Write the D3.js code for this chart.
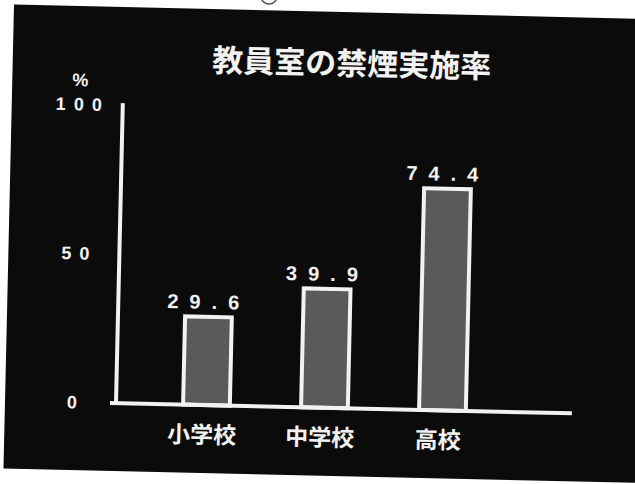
<!DOCTYPE html>
<html>
<head>
<meta charset="utf-8">
<script src="https://cdn.jsdelivr.net/npm/d3@7"></script>
<style>
  html, body { margin: 0; padding: 0; background: #ffffff; }
  svg { display: block; }
</style>
</head>
<body>
<svg id="chart" width="635" height="484"></svg>
<script>
// ---- data ----
const title = "教員室の禁煙実施率";
const unitLabel = "%";
const categories = ["小学校", "中学校", "高校"];
const values = [29.6, 39.9, 74.4];
const yTicks = [0, 50, 100];

// ---- setup ----
const svg = d3.select("#chart");
const ink = "#f2f2f2";
const jp = "'Noto Sans CJK JP', 'Noto Sans', sans-serif";
const num = "'Liberation Sans', Arial, sans-serif";

// scanned slide is slightly rotated
const g = svg.append("g").attr("transform", "rotate(1.3, 115, 403)");

// slide panel
g.append("rect")
  .attr("x", 5).attr("y", 7)
  .attr("width", 632).attr("height", 464)
  .attr("fill", "#0b0b0b");

// circled page number remnant at top edge
svg.append("circle")
  .attr("cx", 269).attr("cy", -4).attr("r", 8)
  .attr("fill", "none").attr("stroke", "#555").attr("stroke-width", 1.5);

// scales
const y = d3.scaleLinear().domain([0, 100]).range([403, 105]);
const x = d3.scaleBand().domain(categories)
  .range([115, 534]).paddingInner(0.57).paddingOuter(0.56);

// title
g.append("text")
  .attr("x", 344).attr("y", 56)
  .attr("text-anchor", "middle")
  .attr("dominant-baseline", "central")
  .attr("fill", ink)
  .attr("font-family", jp)
  .attr("font-weight", 700)
  .attr("font-size", 31)
  .text(title);

// unit
g.append("text")
  .attr("x", 73).attr("y", 81)
  .attr("text-anchor", "middle")
  .attr("dominant-baseline", "central")
  .attr("fill", ink)
  .attr("font-family", num)
  .attr("font-weight", 700)
  .attr("font-size", 18)
  .text(unitLabel);

// y tick labels
const yAxis = d3.axisLeft(y).tickValues(yTicks).tickSize(0).tickPadding(0)
  .tickFormat(d3.format("d"));
const ya = g.append("g").attr("transform", "translate(76,0)").call(yAxis);
ya.select(".domain").remove();
ya.selectAll("text")
  .attr("text-anchor", "middle")
  .attr("fill", ink)
  .attr("font-family", num)
  .attr("font-weight", 700)
  .attr("font-size", 18)
  .attr("letter-spacing", 8);

// bars
g.selectAll("rect.bar")
  .data(values)
  .join("rect")
  .attr("class", "bar")
  .attr("x", (d, i) => x(categories[i]) + 2)
  .attr("width", x.bandwidth() - 4)
  .attr("y", d => y(d))
  .attr("height", d => y(0) - y(d))
  .attr("fill", "#5a5a5a")
  .attr("stroke", ink)
  .attr("stroke-width", 4);

// axis lines
g.append("line")
  .attr("x1", 116).attr("x2", 116)
  .attr("y1", y(100) - 2).attr("y2", y(0) + 2)
  .attr("stroke", ink).attr("stroke-width", 4);
g.append("line")
  .attr("x1", 110).attr("x2", 572)
  .attr("y1", y(0)).attr("y2", y(0))
  .attr("stroke", ink).attr("stroke-width", 4);

// value labels
g.selectAll("text.val")
  .data(values)
  .join("text")
  .attr("class", "val")
  .attr("x", (d, i) => x(categories[i]) + x.bandwidth() / 2)
  .attr("y", d => y(d) - 8)
  .attr("text-anchor", "middle")
  .attr("fill", ink)
  .attr("font-family", num)
  .attr("font-weight", 700)
  .attr("font-size", 20)
  .attr("letter-spacing", 11)
  .text(d => d3.format(".1f")(d));

// category labels
g.selectAll("text.cat")
  .data(categories)
  .join("text")
  .attr("class", "cat")
  .attr("x", d => x(d) + x.bandwidth() / 2 - 4)
  .attr("y", 431)
  .attr("text-anchor", "middle")
  .attr("dominant-baseline", "central")
  .attr("fill", ink)
  .attr("font-family", jp)
  .attr("font-weight", 700)
  .attr("font-size", 23)
  .text(d => d);
</script>
</body>
</html>
